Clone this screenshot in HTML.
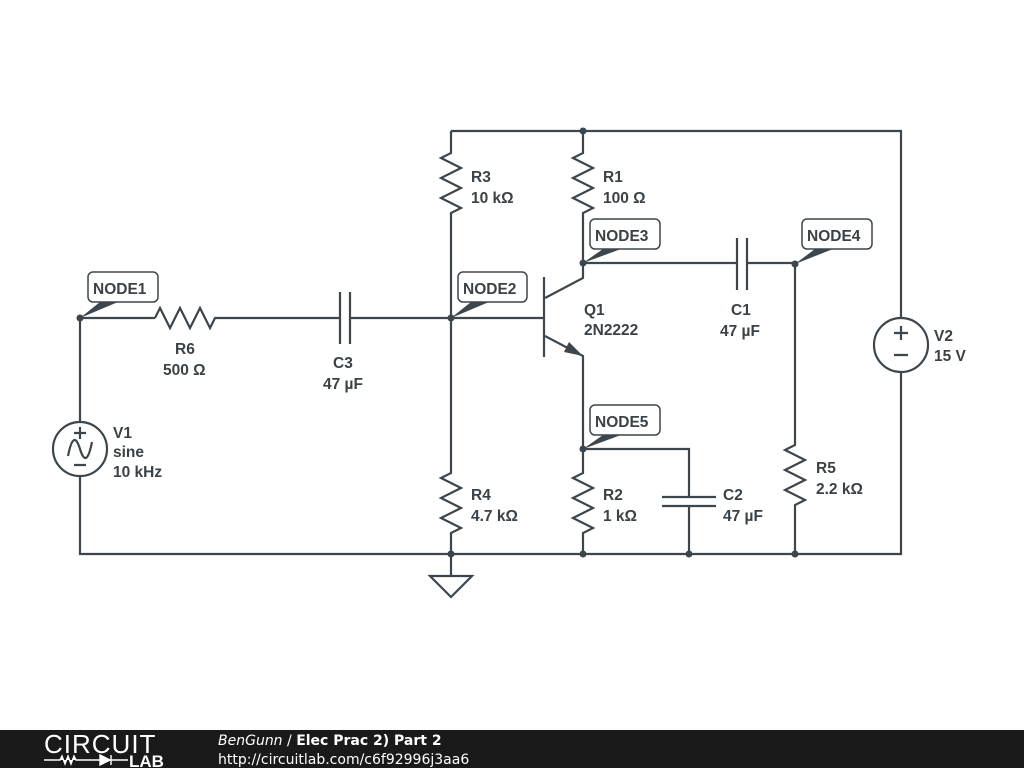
<!DOCTYPE html>
<html><head><meta charset="utf-8"><style>
body{margin:0;background:#fff;width:1024px;height:768px;overflow:hidden;position:relative;font-family:"Liberation Sans",sans-serif}
svg{position:absolute;left:0;top:0}
.t{font-family:"Liberation Sans",sans-serif;font-weight:bold;font-size:15.5px;fill:#3a4248}
.n{font-family:"Liberation Sans",sans-serif;font-weight:bold;font-size:15.5px;fill:#3a4248}
</style></head><body>
<svg width="1024" height="768" viewBox="0 0 1024 768">
<g stroke="#3d464c" stroke-width="2.2" fill="none" stroke-linejoin="miter">
<path d="M451 131H901V318M901 372V554H80V476M80 422V318H155"/>
<path d="M155 318L160 308L170 328L180 308L190 328L200 308L210 328L215 318H340M350 318H544"/>
<path d="M340 292V344M350 292V344"/>
<path d="M451 131V153L441 158L461 168L441 178L461 188L441 198L461 208L451 213V473L441 478L461 488L441 498L461 508L441 518L461 528L451 533V554"/>
<path d="M583 131V153L573 158L593 168L573 178L593 188L573 198L593 208L583 213V278L545 298"/>
<path d="M544 277V357"/>
<path d="M545 336L583 356V449H689V497M689 506V554"/>
<path d="M662 497H716M662 506H716"/>
<path d="M583 449V473L573 478L593 488L573 498L593 508L573 518L593 528L583 533V554"/>
<path d="M583 263H737M747 263H795V445L785 450L805 460L785 470L805 480L785 490L805 500L795 505V554"/>
<path d="M737 238V290M747 238V290"/>
<path d="M451 554V576M430 576H472L451 597Z"/>
<circle cx="80" cy="449" r="27"/>
<circle cx="901" cy="345" r="27"/>
<path d="M894 333H908M901 326V340M894 355H908"/>
<path d="M74 433H86M80 427V439M74 465H86"/>
<path d="M68 456C72 436 76 436 80 449S88 462 92 442"/>
</g>
<path d="M583 356L569 342L564 352Z" fill="#3d464c"/>
<g fill="#3d464c">
<circle cx="80" cy="318" r="3.5"/><circle cx="451" cy="318" r="3.5"/><circle cx="583" cy="263" r="3.5"/>
<circle cx="795" cy="264" r="3.5"/><circle cx="583" cy="449" r="3.5"/><circle cx="583" cy="131" r="3.5"/>
<circle cx="451" cy="554" r="3.5"/><circle cx="583" cy="554" r="3.5"/><circle cx="689" cy="554" r="3.5"/><circle cx="795" cy="554" r="3.5"/>
<path d="M80 318L100 302H118Z"/><path d="M451 318L471 302H489Z"/><path d="M583 263L603 249H621Z"/><path d="M795 264L815 249H833Z"/><path d="M583 449L603 435H621Z"/>
</g>
<g fill="#fff" stroke="#3d464c" stroke-width="1.5">
<rect x="88" y="272" width="70" height="30" rx="5"/>
<rect x="458" y="272" width="69" height="30" rx="5"/>
<rect x="590" y="219" width="70" height="30" rx="5"/>
<rect x="802" y="219" width="70" height="30" rx="5"/>
<rect x="590" y="405" width="70" height="30" rx="5"/>
</g>
<g class="n">
<text x="93" y="294">NODE1</text><text x="463" y="294">NODE2</text><text x="595" y="241">NODE3</text><text x="807" y="241">NODE4</text><text x="595" y="427">NODE5</text>
</g>
<g class="t">
<text x="175" y="354">R6</text><text x="163" y="375">500 Ω</text>
<text x="333" y="368">C3</text><text x="323" y="389">47 µF</text>
<text x="113" y="438">V1</text><text x="113" y="457">sine</text><text x="113" y="477">10 kHz</text>
<text x="471" y="182">R3</text><text x="471" y="203">10 kΩ</text>
<text x="603" y="182">R1</text><text x="603" y="203">100 Ω</text>
<text x="584" y="315">Q1</text><text x="584" y="335">2N2222</text>
<text x="731" y="315">C1</text><text x="720" y="336">47 µF</text>
<text x="934" y="341">V2</text><text x="934" y="361">15 V</text>
<text x="471" y="500">R4</text><text x="471" y="521">4.7 kΩ</text>
<text x="603" y="500">R2</text><text x="603" y="521">1 kΩ</text>
<text x="723" y="500">C2</text><text x="723" y="521">47 µF</text>
<text x="816" y="473">R5</text><text x="816" y="494">2.2 kΩ</text>
</g>
<rect x="0" y="730" width="1024" height="38" fill="#1a1a1a"/>
<text x="44" y="753" font-family="Liberation Sans,sans-serif" font-size="26" fill="#fff" letter-spacing="1">CIRCUIT</text>
<path d="M44 760H60L62 756L65 764L68 756L71 764L74 756L76 760H100M100 755V765L110 760ZM111 755V765M111 760H128" stroke="#fff" stroke-width="1.4" fill="#fff"/>
<text x="129" y="767" font-family="Liberation Sans,sans-serif" font-size="17" font-weight="bold" fill="#fff">LAB</text>
<text x="218" y="745" font-family="DejaVu Sans,sans-serif" font-size="14" fill="#fff"><tspan font-style="italic">BenGunn</tspan> / <tspan font-weight="bold">Elec Prac 2) Part 2</tspan></text>
<text x="218" y="764" font-family="DejaVu Sans,sans-serif" font-size="14" fill="#fff">http://circuitlab.com/c6f92996j3aa6</text>
</svg>
</body></html>
